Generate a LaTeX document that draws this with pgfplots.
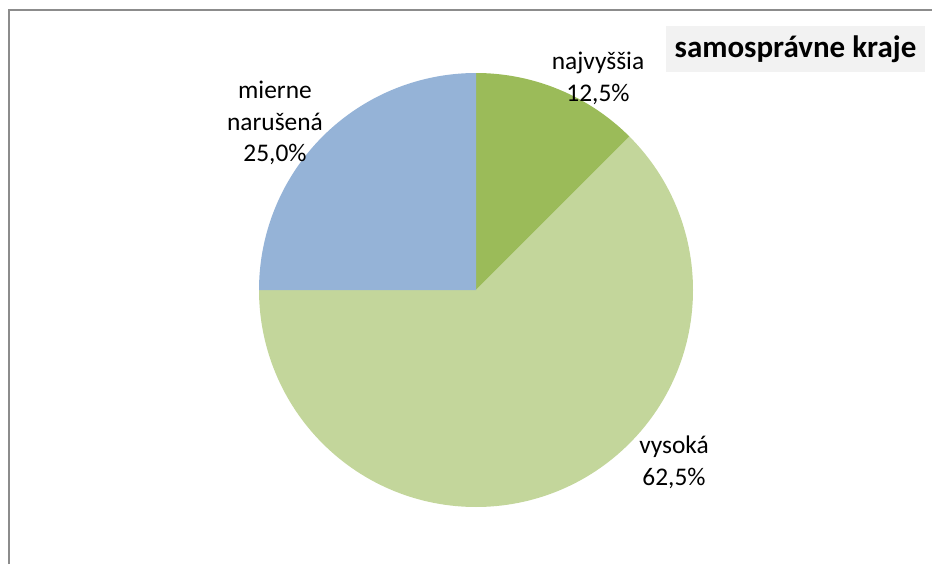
\documentclass[border=0pt]{standalone}
\usepackage{pgfplots}
\pgfplotsset{compat=1.18}
\usepackage{fontspec}
\setmainfont{Carlito}
\definecolor{cTop}{HTML}{9BBB59}
\definecolor{cHigh}{HTML}{C3D69B}
\definecolor{cMild}{HTML}{95B3D7}
\definecolor{cTitle}{HTML}{F2F2F2}
\definecolor{cFrame}{HTML}{8C8C8C}
% data (percent)
\def\vTop{12.5}
\def\vHigh{62.5}
\def\vMild{25.0}
\begin{document}
\begin{tikzpicture}
\begin{axis}[name=ax, hide axis, scale only axis, width=466pt, height=282pt,
  xmin=0, xmax=932, ymin=0, ymax=564, clip=false]
% pie: centre (476,274), radius 217px = 108.5pt, starting at 90 deg clockwise
\fill[cTop] (axis cs:476,274) -- ++(90:108.5pt) arc[start angle=90, end angle={90-3.6*\vTop}, radius=108.5pt] -- cycle;
\fill[cHigh] (axis cs:476,274) -- ++({90-3.6*\vTop}:108.5pt) arc[start angle={90-3.6*\vTop}, end angle={90-3.6*(\vTop+\vHigh)}, radius=108.5pt] -- cycle;
\fill[cMild] (axis cs:476,274) -- ++({90-3.6*(\vTop+\vHigh)}:108.5pt) arc[start angle={90-3.6*(\vTop+\vHigh)}, end angle={90-3.6*(\vTop+\vHigh+\vMild)}, radius=108.5pt] -- cycle;
% labels
\node[align=center, font=\fontsize{12.7}{15.9}\selectfont] at (axis cs:598,486) {najvyššia\\12,5\%};
\node[align=center, font=\fontsize{12.7}{15.9}\selectfont] at (axis cs:275,441) {mierne\\narušená\\25,0\%};
\node[align=center, font=\fontsize{12.7}{15.9}\selectfont] at (axis cs:674,102) {vysoká\\62,5\%};
% title box
\fill[cTitle] (axis cs:666,492) rectangle (axis cs:925,538);
\node[font=\fontsize{15.5}{18}\selectfont\bfseries] at (axis cs:795.5,515) {samosprávne kraje};
% frame
\draw[cFrame, line width=1pt] (axis cs:8.5,0) -- (axis cs:8.5,553.5) -- (axis cs:932,553.5);
\end{axis}
\pgfresetboundingbox
\useasboundingbox (ax.south west) rectangle (ax.north east);
\end{tikzpicture}
\end{document}
